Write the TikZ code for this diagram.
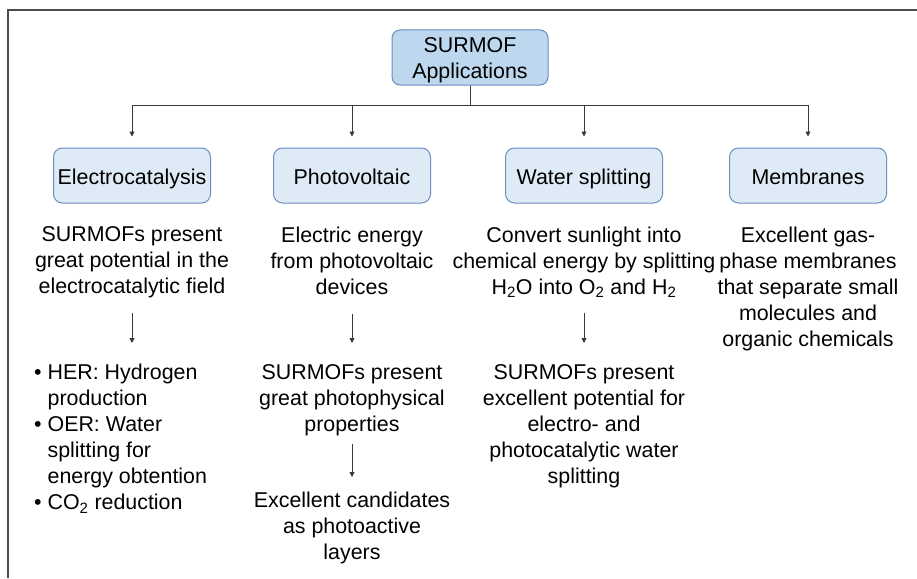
\documentclass[tikz,border=0pt]{standalone}
\usepackage{fontspec}
\setmainfont{Liberation Sans}
\usepackage{xcolor}
\usetikzlibrary{arrows.meta,positioning}
\definecolor{rootfill}{HTML}{BDD7EE}
\definecolor{catfill}{HTML}{DEEBF7}
\definecolor{boxline}{HTML}{6A8CC0}
\definecolor{linegray}{HTML}{3A3A3A}

\begin{document}
\begin{tikzpicture}[x=1pt,y=1pt,>={Triangle[length=5pt,width=5pt]},
every node/.style = {align=center, inner sep=0pt,
    font=\fontsize{21.4}{26}\selectfont},
rootbox/.style={draw=boxline, fill=rootfill, rounded corners=8pt,
    line width=1pt, minimum width=156pt, minimum height=55pt,
    text height=47.4pt, text depth=4.5pt},
catbox/.style={draw=boxline, fill=catfill, rounded corners=9pt,
    line width=1pt, minimum width=157pt, minimum height=55pt,
    text height=17pt, text depth=0pt},
link/.style={draw=linegray, line width=0.9pt}]
\useasboundingbox (0,0) rectangle (917,-578);
% frame
\draw[gray!60!black, line width=1.3pt] (8,-578) -- (8,-10) -- (917,-10);

% boxes
\node[rootbox] (root) at (470,-57.5) {SURMOF\\Applications};
\node[catbox] (elec)  at (132,-175.5) {Electrocatalysis};
\node[catbox] (photo) at (352,-175.5) {Photovoltaic};
\node[catbox] (water) at (584,-175.5) {Water splitting};
\node[catbox] (memb)  at (808,-175.5) {Membranes};

\foreach \n in {elec,photo,water,memb}
  \draw[link,->,shorten >=11pt] (root.south) -- ++(0,-20) -| (\n.north);

% first descriptions
\node[below=23pt of elec] (elecd) {SURMOFs present\\great potential in the\\electrocatalytic field};
\node[below=23pt of photo] (photod) {Electric energy\\from photovoltaic\\devices\vphantom{y}};
\node[below=23pt of water] (waterd) {Convert sunlight into\\chemical energy by splitting\\H\textsubscript{2}O into O\textsubscript{2} and H\textsubscript{2}};
\node[below=23pt of memb] (membd) {Excellent gas-\\phase membranes\\that separate small\\molecules and\\organic chemicals};

% second level
\node[anchor=north west, align=left] (elecl) at (34,-364)
  {\textbullet\ HER: Hydrogen\\\hphantom{\textbullet\ }production\\
   \textbullet\ OER: Water\\\hphantom{\textbullet\ }splitting for\\
   \hphantom{\textbullet\ }energy obtention\\\textbullet\ CO\textsubscript{2} reduction};
\node[anchor=north] (photos) at (352,-364) {SURMOFs present\\great photophysical\\properties};
\node[anchor=north] (photoc) at (352,-492) {Excellent candidates\\as photoactive\\layers};
\node[anchor=north] (waters) at (584,-364) {SURMOFs present\\excellent potential for\\electro- and\\photocatalytic water\\splitting};

\draw[link,->,shorten <=15pt,shorten >=21pt] (elecd.south) -- (elecd.south |- elecl.north);
\draw[link,->,shorten <=15pt,shorten >=21pt] (photod.south) -- (photos.north);
\draw[link,->,shorten <=8pt,shorten >=15pt] (photos.south) -- (photoc.north);
\draw[link,->,shorten <=15pt,shorten >=21pt] (waterd.south) -- (waters.north);
\end{tikzpicture}
\end{document}
